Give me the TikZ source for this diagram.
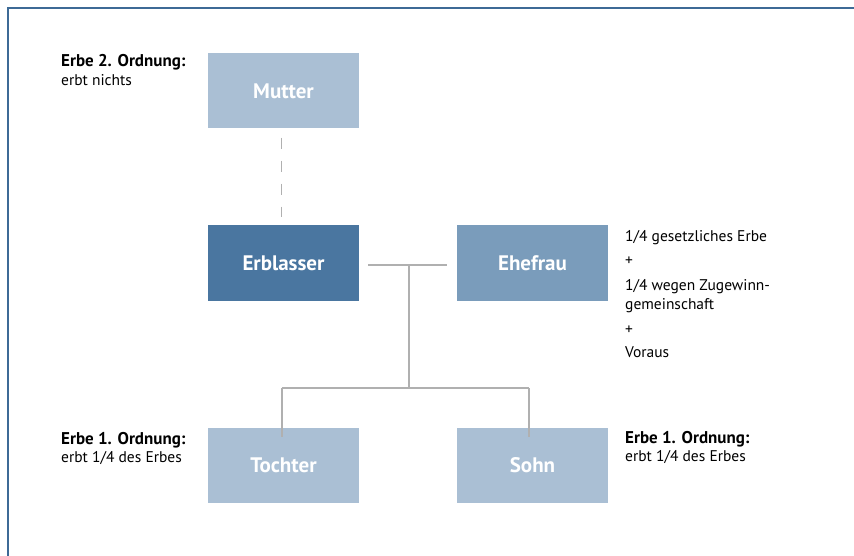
\documentclass[tikz,border=0pt]{standalone}
\usepackage{fontspec}
\setmainfont{PT Sans}
\definecolor{frame}{HTML}{3D6A96}
\definecolor{light}{HTML}{AABFD4}
\definecolor{dark}{HTML}{4A76A0}
\definecolor{mid}{HTML}{7A9CBB}
\definecolor{conn}{HTML}{B0B0B0}
\begin{document}
\begin{tikzpicture}[x=1pt,y=-1pt,
  box/.style={rectangle, minimum width=151pt, minimum height=75pt, inner sep=0pt, text=white, font=\fontsize{21}{24}\selectfont\bfseries},
  conline/.style={draw=conn, line width=1.3pt},
  head/.style={anchor=base west, inner sep=0pt, font=\fontsize{17}{19}\selectfont\bfseries},
  txt/.style={anchor=base west, inner sep=0pt, font=\fontsize{15.5}{19}\selectfont}
]
\useasboundingbox (0,0) rectangle (854,556);
\draw[frame, line width=2pt] (8,556) -- (8,8) -- (854,8);

\node[box, fill=light] (mutter) at (283.5,91) {Mutter};
\node[box, fill=dark] (erb) at (283.5,263) {Erblasser};
\node[box, fill=mid] (ehe) at (532.5,263) {Ehefrau};
\node[box, fill=light] (tochter) at (283.5,465) {Tochter};
\node[box, fill=light] (sohn) at (532.5,465) {Sohn};

\draw[conline, dash pattern=on 11pt off 12pt] ([xshift=-2pt,yshift=-9pt]mutter.south) -- ([xshift=-2pt,yshift=8pt]erb.north);

\coordinate (j) at (409,265);
\coordinate (b) at (409,388);
\coordinate (bl) at (282,388);
\coordinate (br) at (529,388);
\draw[conline] ([xshift=9pt]erb.east |- j) -- ([xshift=-10pt]ehe.west |- j);
\draw[conline] (j) -- (b);
\draw[conline] (bl) -- (br);
\draw[conline] (bl) -- ([yshift=-10pt]tochter.north -| bl);
\draw[conline] (br) -- ([yshift=-10pt]sohn.north -| br);

\node[head] (h2) at (61,67) {Erbe 2. Ordnung:};
\node[txt] (t2) at (61,86) {erbt nichts};
\node[head] (h1a) at (61,444) {Erbe 1. Ordnung:};
\node[txt] (t1a) at (61,462) {erbt 1/4 des Erbes};
\node[head] (h1b) at (625,443) {Erbe 1. Ordnung:};
\node[txt] (t1b) at (625,461) {erbt 1/4 des Erbes};

\node[txt] (e1) at (625,241) {1/4 gesetzliches Erbe};
\node[txt] (e2) at (625,265.5) {+};
\node[txt] (e3) at (625,290) {1/4 wegen Zugewinn-};
\node[txt] (e4) at (625,309) {gemeinschaft};
\node[txt] (e5) at (625,334.5) {+};
\node[txt] (e6) at (625,357) {Voraus};
\end{tikzpicture}
\end{document}
